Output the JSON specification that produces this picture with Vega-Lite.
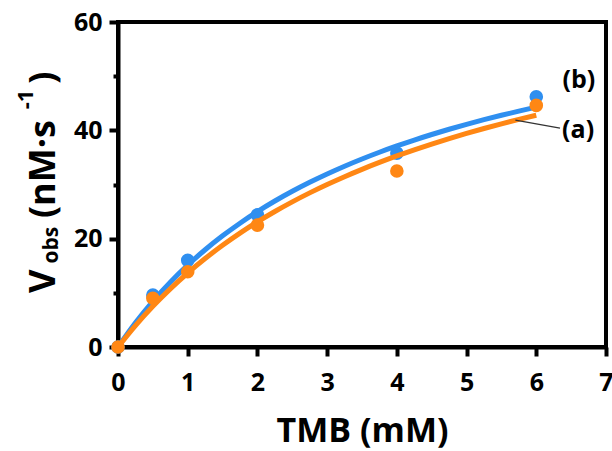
{
  "$schema": "https://vega.github.io/schema/vega-lite/v6.json",
  "autosize": {"type": "none"},
  "width": 488,
  "height": 325,
  "padding": {"left": 118, "top": 22, "right": 6, "bottom": 104},
  "background": "white",
  "config": {
    "view": {"stroke": "black", "strokeWidth": 4},
    "font": "Open Sans"
  },
  "datasets": {
    "points": [
      {"TMB": 0, "V": 0, "series": "b"},
      {"TMB": 0.5, "V": 9.6, "series": "b"},
      {"TMB": 1, "V": 16.0, "series": "b"},
      {"TMB": 2, "V": 24.4, "series": "b"},
      {"TMB": 4, "V": 35.8, "series": "b"},
      {"TMB": 6, "V": 46.2, "series": "b"},
      {"TMB": 0, "V": 0, "series": "a"},
      {"TMB": 0.5, "V": 9.0, "series": "a"},
      {"TMB": 1, "V": 13.9, "series": "a"},
      {"TMB": 2, "V": 22.5, "series": "a"},
      {"TMB": 4, "V": 32.5, "series": "a"},
      {"TMB": 6, "V": 44.6, "series": "a"}
    ],
    "curve": [
      {"TMB": 0, "V": 0, "series": "b"},
      {"TMB": 0.25, "V": 4.484, "series": "b"},
      {"TMB": 0.5, "V": 8.443, "series": "b"},
      {"TMB": 0.75, "V": 11.963, "series": "b"},
      {"TMB": 1, "V": 15.115, "series": "b"},
      {"TMB": 1.25, "V": 17.953, "series": "b"},
      {"TMB": 1.5, "V": 20.522, "series": "b"},
      {"TMB": 1.75, "V": 22.858, "series": "b"},
      {"TMB": 2, "V": 24.991, "series": "b"},
      {"TMB": 2.25, "V": 26.948, "series": "b"},
      {"TMB": 2.5, "V": 28.748, "series": "b"},
      {"TMB": 2.75, "V": 30.41, "series": "b"},
      {"TMB": 3, "V": 31.95, "series": "b"},
      {"TMB": 3.25, "V": 33.38, "series": "b"},
      {"TMB": 3.5, "V": 34.711, "series": "b"},
      {"TMB": 3.75, "V": 35.954, "series": "b"},
      {"TMB": 4, "V": 37.117, "series": "b"},
      {"TMB": 4.25, "V": 38.207, "series": "b"},
      {"TMB": 4.5, "V": 39.232, "series": "b"},
      {"TMB": 4.75, "V": 40.197, "series": "b"},
      {"TMB": 5, "V": 41.106, "series": "b"},
      {"TMB": 5.25, "V": 41.965, "series": "b"},
      {"TMB": 5.5, "V": 42.778, "series": "b"},
      {"TMB": 5.75, "V": 43.548, "series": "b"},
      {"TMB": 6, "V": 44.278, "series": "b"},
      {"TMB": 0, "V": 0, "series": "a"},
      {"TMB": 0.25, "V": 3.96, "series": "a"},
      {"TMB": 0.5, "V": 7.52, "series": "a"},
      {"TMB": 0.75, "V": 10.739, "series": "a"},
      {"TMB": 1, "V": 13.663, "series": "a"},
      {"TMB": 1.25, "V": 16.331, "series": "a"},
      {"TMB": 1.5, "V": 18.775, "series": "a"},
      {"TMB": 1.75, "V": 21.023, "series": "a"},
      {"TMB": 2, "V": 23.096, "series": "a"},
      {"TMB": 2.25, "V": 25.015, "series": "a"},
      {"TMB": 2.5, "V": 26.796, "series": "a"},
      {"TMB": 2.75, "V": 28.454, "series": "a"},
      {"TMB": 3, "V": 30.0, "series": "a"},
      {"TMB": 3.25, "V": 31.446, "series": "a"},
      {"TMB": 3.5, "V": 32.802, "series": "a"},
      {"TMB": 3.75, "V": 34.074, "series": "a"},
      {"TMB": 4, "V": 35.272, "series": "a"},
      {"TMB": 4.25, "V": 36.401, "series": "a"},
      {"TMB": 4.5, "V": 37.467, "series": "a"},
      {"TMB": 4.75, "V": 38.475, "series": "a"},
      {"TMB": 5, "V": 39.429, "series": "a"},
      {"TMB": 5.25, "V": 40.335, "series": "a"},
      {"TMB": 5.5, "V": 41.195, "series": "a"},
      {"TMB": 5.75, "V": 42.013, "series": "a"},
      {"TMB": 6, "V": 42.792, "series": "a"}
    ],
    "labels": [
      {"label": "(b)", "lx": 6.61, "ly": 49.3},
      {"label": "(a)", "lx": 6.6, "ly": 40.0}
    ],
    "leader": [
      {"x1": 5.7, "y1": 41.9, "x2": 6.34, "y2": 40.4}
    ]
  },
  "layer": [
    {
      "data": {"name": "curve"},
      "transform": [{"filter": "datum.series === 'b'"}],
      "mark": {"type": "line", "color": "#2f8ff0", "strokeWidth": 5, "interpolate": "monotone"},
      "encoding": {
        "x": {
          "field": "TMB", "type": "quantitative",
          "scale": {"domain": [0, 7], "nice": false, "zero": false},
          "axis": {
            "title": "TMB (mM)",
            "values": [0, 0.5, 1, 1.5, 2, 2.5, 3, 3.5, 4, 4.5, 5, 5.5, 6, 6.5, 7],
            "labelExpr": "datum.value % 1 !== 0 ? '' : format(datum.value, 'd')",
            "grid": false,
            "domainColor": "black", "domainWidth": 4,
            "tickColor": "black", "tickWidth": 4,
            "tickSize": {"condition": {"test": "datum.value % 1 !== 0", "value": 5}, "value": 9},
            "labelFont": "Open Sans", "labelFontWeight": "bold", "labelFontSize": 25, "labelColor": "black",
            "labelPadding": 14, "labelFlush": false, "labelOverlap": false,
            "titleFont": "Open Sans", "titleFontWeight": "bold", "titleFontSize": 34, "titleColor": "black",
            "titlePadding": 19
          }
        },
        "y": {
          "field": "V", "type": "quantitative",
          "scale": {"domain": [0, 60], "nice": false},
          "axis": {
            "title": null,
            "values": [0, 10, 20, 30, 40, 50, 60],
            "labelExpr": "datum.value % 20 !== 0 ? '' : format(datum.value, 'd')",
            "grid": false,
            "domainColor": "black", "domainWidth": 4,
            "tickColor": "black", "tickWidth": 4,
            "tickSize": {"condition": {"test": "datum.value % 20 !== 0", "value": 5}, "value": 9},
            "labelFont": "Open Sans", "labelFontWeight": "bold", "labelFontSize": 25, "labelColor": "black",
            "labelPadding": 7, "labelFlush": false, "labelOverlap": false
          }
        }
      }
    },
    {
      "data": {"name": "points"},
      "transform": [{"filter": "datum.series === 'b'"}],
      "mark": {"type": "point", "shape": "circle", "filled": true, "opacity": 1, "size": 185, "color": "#2f8ff0"},
      "encoding": {"x": {"field": "TMB", "type": "quantitative"}, "y": {"field": "V", "type": "quantitative"}}
    },
    {
      "data": {"name": "curve"},
      "transform": [{"filter": "datum.series === 'a'"}],
      "mark": {"type": "line", "color": "#ff8714", "strokeWidth": 5, "interpolate": "monotone"},
      "encoding": {"x": {"field": "TMB", "type": "quantitative"}, "y": {"field": "V", "type": "quantitative"}}
    },
    {
      "data": {"name": "points"},
      "transform": [{"filter": "datum.series === 'a'"}],
      "mark": {"type": "point", "shape": "circle", "filled": true, "opacity": 1, "size": 185, "color": "#ff8714"},
      "encoding": {"x": {"field": "TMB", "type": "quantitative"}, "y": {"field": "V", "type": "quantitative"}}
    },
    {
      "data": {"name": "leader"},
      "mark": {"type": "rule", "color": "#333333", "strokeWidth": 1.3},
      "encoding": {
        "x": {"field": "x1", "type": "quantitative"}, "y": {"field": "y1", "type": "quantitative"},
        "x2": {"field": "x2"}, "y2": {"field": "y2"}
      }
    },
    {
      "data": {"name": "labels"},
      "mark": {"type": "text", "font": "Open Sans", "fontWeight": "bold", "fontSize": 25, "align": "center", "baseline": "middle", "color": "black"},
      "encoding": {
        "x": {"field": "lx", "type": "quantitative"},
        "y": {"field": "ly", "type": "quantitative"},
        "text": {"field": "label"}
      }
    },
    {
      "data": {"values": [{"t": "V", "tx": -0.904, "ty": 9.96}, {"t": "(nM·s", "tx": -0.904, "ty": 23.8}, {"t": ")", "tx": -0.904, "ty": 48.6}]},
      "mark": {"type": "text", "font": "Open Sans", "fontWeight": "bold", "fontSize": 36, "angle": 270, "align": "left", "baseline": "alphabetic", "color": "black"},
      "encoding": {
        "x": {"field": "tx", "type": "quantitative"},
        "y": {"field": "ty", "type": "quantitative"},
        "text": {"field": "t"}
      }
    },
    {
      "data": {"values": [{"t": "obs", "tx": -0.86, "ty": 15.4}]},
      "mark": {"type": "text", "font": "Open Sans", "fontWeight": "bold", "fontSize": 21, "angle": 270, "align": "left", "baseline": "alphabetic", "color": "black"},
      "encoding": {
        "x": {"field": "tx", "type": "quantitative"},
        "y": {"field": "ty", "type": "quantitative"},
        "text": {"field": "t"}
      }
    },
    {
      "data": {"values": [{"t": "-1", "tx": -1.22, "ty": 43.9}]},
      "mark": {"type": "text", "font": "Open Sans", "fontWeight": "bold", "fontSize": 22, "angle": 270, "align": "left", "baseline": "alphabetic", "color": "black"},
      "encoding": {
        "x": {"field": "tx", "type": "quantitative"},
        "y": {"field": "ty", "type": "quantitative"},
        "text": {"field": "t"}
      }
    }
  ]
}
